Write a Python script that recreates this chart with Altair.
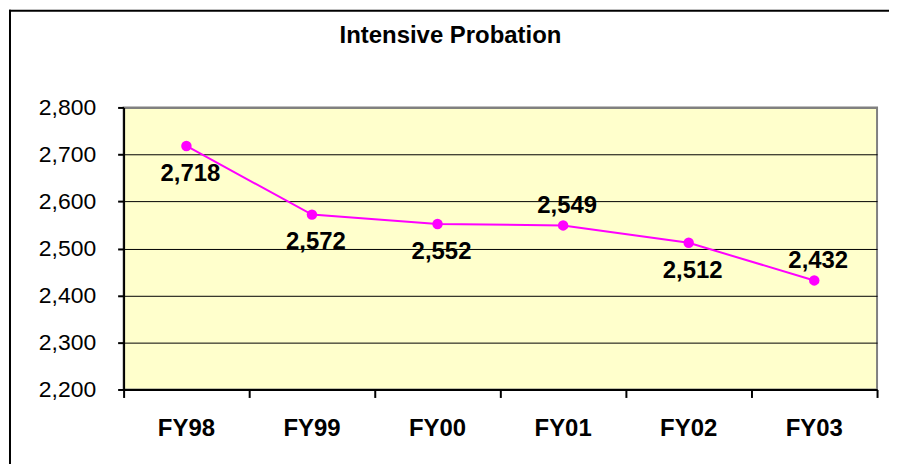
import altair as alt
import pandas as pd

TITLE = "Intensive Probation"
years = ["FY98", "FY99", "FY00", "FY01", "FY02", "FY03"]
counts = [2718, 2572, 2552, 2549, 2512, 2432]
label_side = ["below", "below", "below", "above", "below", "above"]
y_ticks = [2200, 2300, 2400, 2500, 2600, 2700, 2800]

df = pd.DataFrame({"year": years, "count": counts, "side": label_side})

FONT = "Liberation Sans"
MAGENTA = "#FF00FF"

x_enc = alt.X(
    "year:N",
    sort=years,
    scale=alt.Scale(type="band", paddingInner=0, paddingOuter=0),
    axis=alt.Axis(
        title=None,
        labelAngle=0,
        bandPosition=1,
        tickExtra=True,
        tickSize=8,
        tickColor="black",
        tickWidth=2,
        domainColor="black",
        domainWidth=2,
        labelPadding=19,
        labelFont=FONT,
        labelFontSize=24,
        labelFontWeight="bold",
        labelColor="black",
        grid=False,
    ),
)
y_enc = alt.Y(
    "count:Q",
    scale=alt.Scale(domain=[2200, 2800], nice=False, zero=False),
    axis=alt.Axis(
        title=None,
        values=y_ticks,
        format=",d",
        grid=True,
        gridColor={"condition": {"test": "datum.value >= 2800", "value": "#808080"}, "value": "black"},
        gridWidth={"condition": {"test": "datum.value >= 2800", "value": 2}, "value": 1},
        tickSize=6,
        tickColor="black",
        tickWidth=2,
        domainColor="black",
        domainWidth=2,
        labelPadding=22,
        labelFont=FONT,
        labelFontSize=23,
        labelColor="black",
    ),
)

base = alt.Chart(df).encode(x=x_enc, y=y_enc)

line = base.mark_line(color=MAGENTA, strokeWidth=2)
points = base.mark_circle(color=MAGENTA, size=110, opacity=1)

lab_below = base.transform_filter(alt.datum.side == "below").mark_text(
    font=FONT, fontSize=24, fontWeight="bold", color="black", dy=28, dx=4, baseline="middle"
).encode(text=alt.Text("count:Q", format=",d"))
lab_above = base.transform_filter(alt.datum.side == "above").mark_text(
    font=FONT, fontSize=24, fontWeight="bold", color="black", dy=-19, dx=4, baseline="middle"
).encode(text=alt.Text("count:Q", format=",d"))

one = alt.Data(values=[{"k": 1}])
frame_left = alt.Chart(one).mark_rule(color="black", strokeWidth=2).encode(
    x=alt.value(-114), y=alt.value(-98), y2=alt.value(400)
)
frame_top = alt.Chart(one).mark_rule(color="black", strokeWidth=2).encode(
    x=alt.value(-115), x2=alt.value(900), y=alt.value(-97)
)
title = alt.Chart(one).mark_text(
    text=TITLE, font=FONT, fontSize=24, fontWeight="bold", color="black",
    align="center", baseline="alphabetic"
).encode(x=alt.value(328), y=alt.value(-65))

chart = alt.layer(frame_left, frame_top, line, points, lab_below, lab_above, title).properties(
    width=756,
    height=283,
    padding={"left": 116, "top": 99, "right": 12, "bottom": 74},
    autosize=alt.AutoSizeParams(type="none"),
    background="white",
).configure_view(fill="#FFFFCC", stroke="#808080", strokeWidth=2)

chart.save("out.html", embed_options={"renderer": "svg", "actions": False})
